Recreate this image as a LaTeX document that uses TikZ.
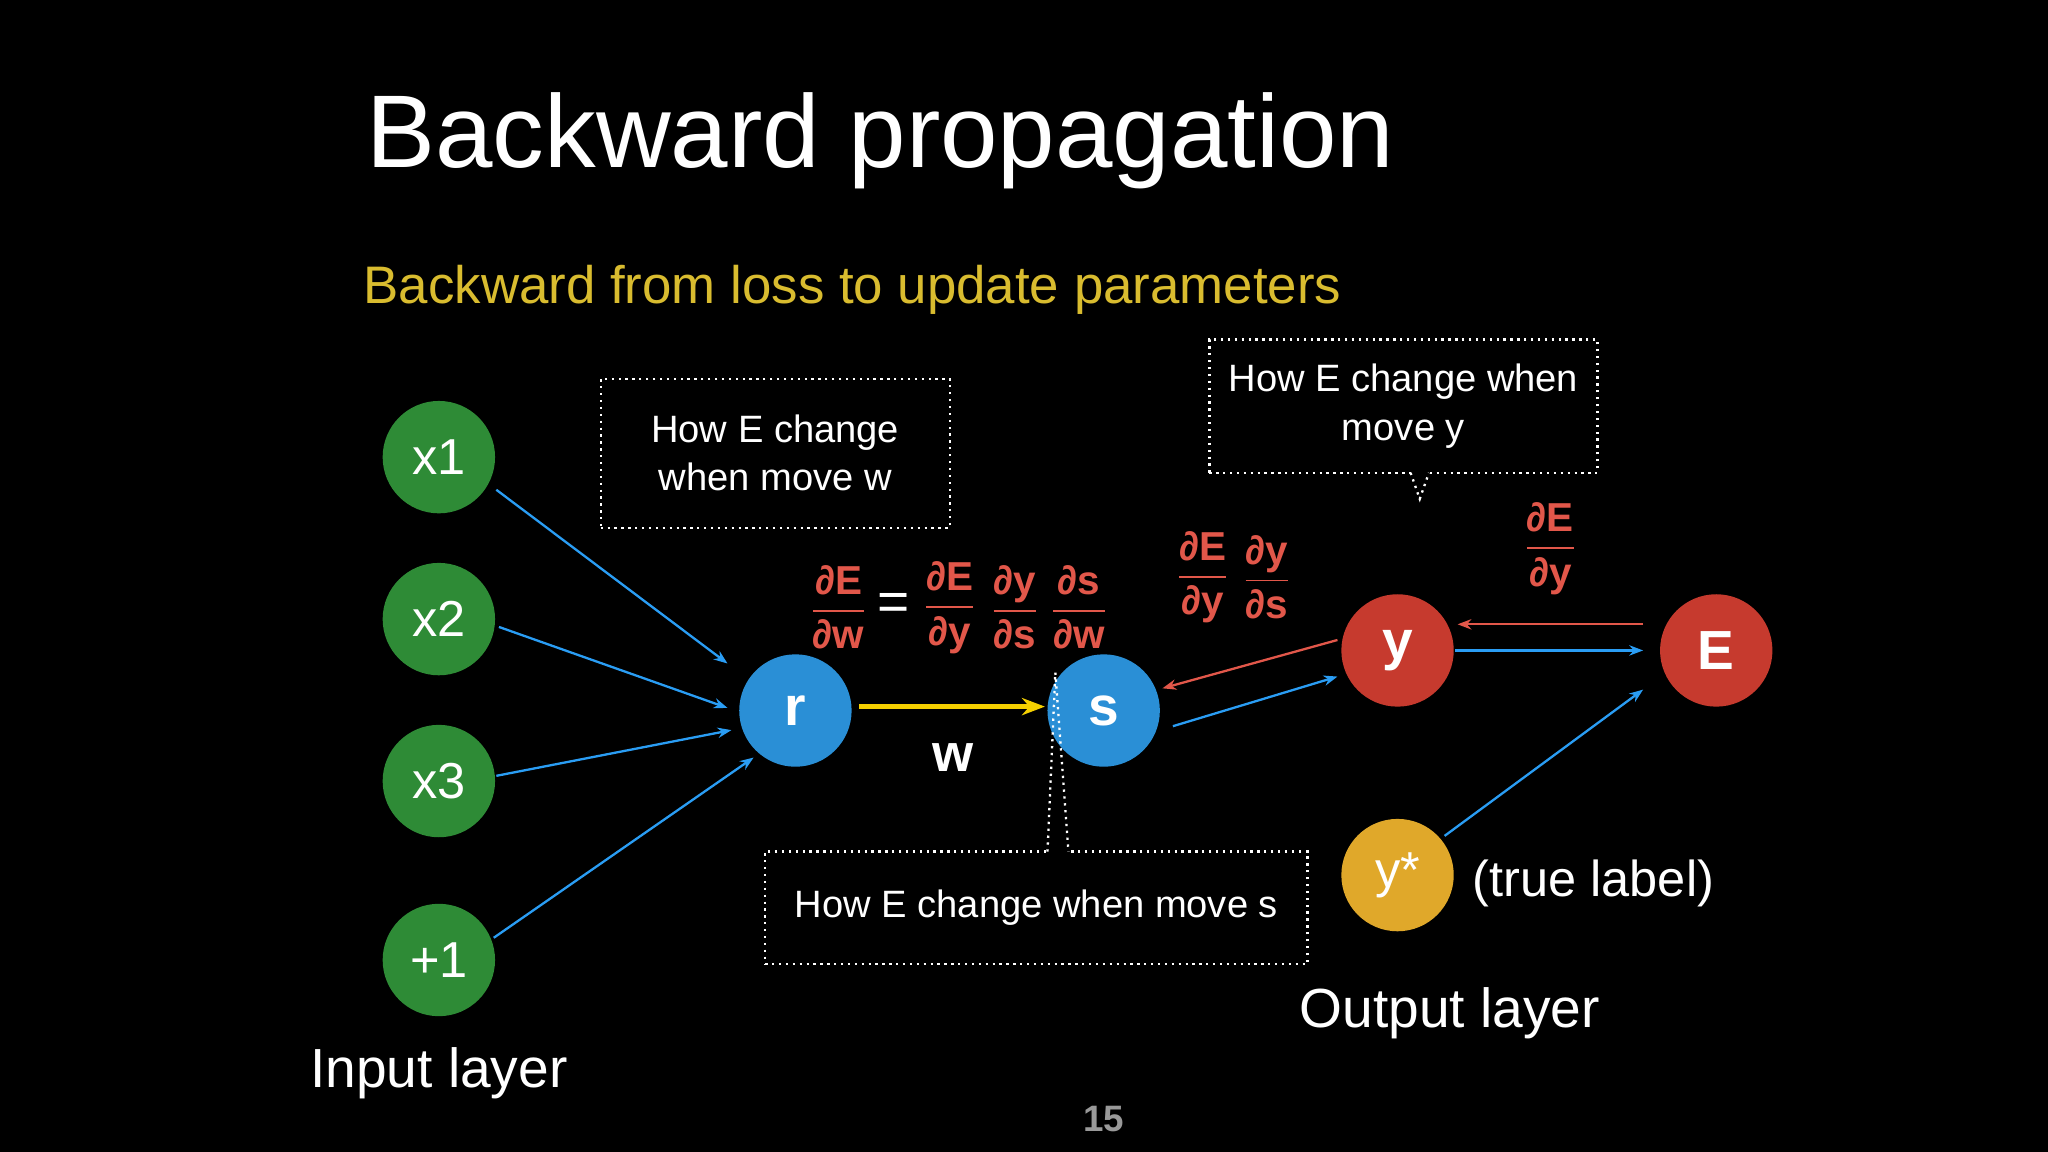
\documentclass[tikz,border=0pt]{standalone}
\usepackage{fontspec}
\setmainfont{Liberation Sans}
\usetikzlibrary{arrows.meta}
\definecolor{gr}{HTML}{2E8B36}
\definecolor{bl}{HTML}{2A8FD6}
\definecolor{rd}{HTML}{C63A2E}
\definecolor{yl}{HTML}{E0A82A}
\definecolor{ar}{HTML}{2A9DF4}
\definecolor{ya}{HTML}{F5D000}
\definecolor{mr}{HTML}{E2574A}
\definecolor{sub}{HTML}{D9BC2F}
\newcommand{\pdf}[2]{$\displaystyle\frac{\mbox{#1}}{\mbox{#2}}$}
\begin{document}
\begin{tikzpicture}[x=0.01cm,y=-0.01cm,
  neuron/.style={circle,minimum size=0.86cm,inner sep=0pt,text=white,font=\fontsize{11}{13}\selectfont},
  barr/.style={ar,line width=0.5pt,-{Stealth[length=3pt]}},
  rarr/.style={mr,line width=0.5pt,-{Stealth[length=3pt]}},
  note/.style={draw=white,densely dotted,line width=0.5pt,text=white,align=center,font=\fontsize{8.3}{10.5}\selectfont},
  dv/.style={text=mr,font=\fontsize{8.8}{10}\selectfont\bfseries,inner sep=1pt}]
\fill[black] (0,0) rectangle (1568,882);
\node[text=white,anchor=west,font=\fontsize{22.5}{26}\selectfont] (title) at (268,108) {Backward propagation};
\node[text=sub,anchor=west,font=\fontsize{11.5}{14}\selectfont] (sub) at (266,222) {Backward from loss to update parameters};
\node[neuron,fill=gr] (x1) at (336,350) {x1};
\node[neuron,fill=gr] (x2) at (336,474) {x2};
\node[neuron,fill=gr] (x3) at (336,598) {x3};
\node[neuron,fill=gr] (p1) at (336,735) {+1};
\node[neuron,fill=bl,font=\fontsize{12}{14}\selectfont\bfseries] (r) at (609,544) {r};
\node[neuron,fill=bl,font=\fontsize{12}{14}\selectfont\bfseries] (s) at (845,544) {s};
\node[neuron,fill=rd,font=\fontsize{12}{14}\selectfont\bfseries] (y) at (1070,498) {y};
\node[neuron,fill=rd,font=\fontsize{12}{14}\selectfont\bfseries] (E) at (1314,498) {E};
\node[neuron,fill=yl] (ys) at (1070,670) {y*};
\coordinate (x1a) at (380,375); \coordinate (x1b) at (557,508);
\coordinate (x2a) at (382,480); \coordinate (x2b) at (557,542);
\coordinate (x3a) at (380,594); \coordinate (x3b) at (560,559);
\coordinate (p1a) at (378,718); \coordinate (p1b) at (577,580);
\draw[barr] (x1a) -- (x1b);
\draw[barr] (x2a) -- (x2b);
\draw[barr] (x3a) -- (x3b);
\draw[barr] (p1a) -- (p1b);
\coordinate (ra) at (658,541); \coordinate (sb) at (800,541);
\draw[ya,line width=1.2pt,-{Stealth[length=5pt]}] (ra) -- (sb);
\coordinate (sa) at (898,556); \coordinate (yb) at (1024,518);
\draw[barr] (sa) -- (yb);
\coordinate (ya2) at (1024,490); \coordinate (sb2) at (890,527);
\draw[rarr] (ya2) -- (sb2);
\coordinate (yE1) at (1114,498); \coordinate (yE2) at (1258,498);
\draw[barr] (yE1) -- (yE2);
\coordinate (Ey1) at (1258,478); \coordinate (Ey2) at (1116,478);
\draw[rarr] (Ey1) -- (Ey2);
\coordinate (ysa) at (1106,640); \coordinate (ysb) at (1258,528);
\draw[barr] (ysa) -- (ysb);
\node[text=white,font=\fontsize{11.5}{14}\selectfont\bfseries] (w) at (730,580) {w};
% notes
\node[note,minimum width=2.67cm,minimum height=1.14cm] (n1) at (593.5,347) {How E change\\when move w};
\node[note,minimum width=2.97cm,minimum height=1.02cm] (n2) at (1074.5,311) {How E change when\\move y};
\draw[black,line width=1.5pt] (1080,362) -- (1094,362);
\draw[white,densely dotted,line width=0.5pt] (1080,362) -- (1087,382) -- (1094,362);
\node[note,minimum width=4.15cm,minimum height=0.86cm] (n3) at (793.5,695) {How E change when move s};
\draw[black,line width=1.5pt] (802,652) -- (818,652);
\draw[white,densely dotted,line width=0.5pt] (802,652) -- (808,515) -- (818,652);
% derivatives
\node[dv] (d1) at (642,465) {\pdf{∂E}{∂w}};
\node[text=white,font=\fontsize{12}{14}\selectfont] (eq) at (684,465) {=};
\node[dv] (d2) at (727,465) {\pdf{∂E}{∂y}};
\node[dv] (d3) at (777,465) {\pdf{∂y}{∂s}};
\node[dv] (d4) at (826,465) {\pdf{∂s}{∂w}};
\node[dv] (d5) at (921,442) {\pdf{∂E}{∂y}};
\node[dv] (d6) at (970,442) {\pdf{∂y}{∂s}};
\node[dv] (d7) at (1187,420) {\pdf{∂E}{∂y}};
\node[text=white,font=\fontsize{11}{13}\selectfont] (tl) at (1220,676) {(true label)};
\node[text=white,font=\fontsize{12}{14}\selectfont] (ol) at (1110,776) {Output layer};
\node[text=white,font=\fontsize{12}{14}\selectfont] (il) at (336,822) {Input layer};
\node[text=gray!80,font=\fontsize{8}{9}\selectfont\bfseries] (pg) at (845,857) {15};
\end{tikzpicture}
\end{document}
